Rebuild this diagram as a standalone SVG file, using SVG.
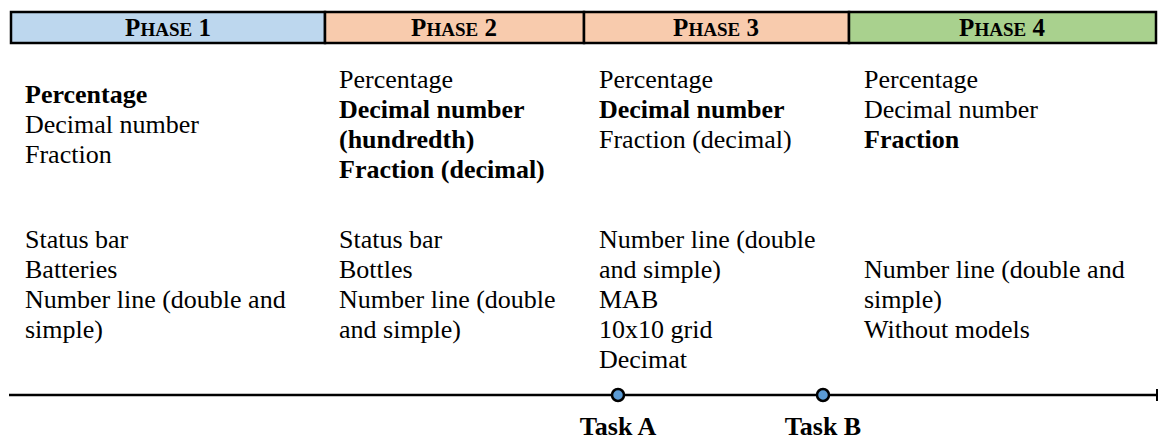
<svg xmlns="http://www.w3.org/2000/svg" width="1159" height="439" viewBox="0 0 1159 439">
<style>
text{font-family:"Liberation Serif","Times New Roman",serif;fill:#000}
.hd{font-size:25px;font-weight:bold;text-anchor:middle}
.sc{font-size:19px}
.t{font-size:26px}
.b{font-weight:bold}
.task{font-size:26px;font-weight:bold;text-anchor:middle}
.cell{stroke:#000;stroke-width:2.5}
</style>
<g id="header">
<rect class="cell" x="11" y="12" width="314" height="31" fill="#BDD7EE"/>
<rect class="cell" x="325" y="12" width="259" height="31" fill="#F8CBAD"/>
<rect class="cell" x="584" y="12" width="265" height="31" fill="#F8CBAD"/>
<rect class="cell" x="849" y="12" width="307" height="31" fill="#A9D18E"/>
<text class="hd" x="168" y="36">P<tspan class="sc">HASE</tspan> 1</text>
<text class="hd" x="454" y="36">P<tspan class="sc">HASE</tspan> 2</text>
<text class="hd" x="716" y="36">P<tspan class="sc">HASE</tspan> 3</text>
<text class="hd" x="1002" y="36">P<tspan class="sc">HASE</tspan> 4</text>
</g>
<g id="phase1-numbers">
<text class="t b" x="25" y="103">Percentage</text>
<text class="t" x="25" y="133">Decimal number</text>
<text class="t" x="25" y="163">Fraction</text>
</g>
<g id="phase2-numbers">
<text class="t" x="339" y="88">Percentage</text>
<text class="t b" x="339" y="118">Decimal number</text>
<text class="t b" x="339" y="148">(hundredth)</text>
<text class="t b" x="339" y="178">Fraction (decimal)</text>
</g>
<g id="phase3-numbers">
<text class="t" x="599" y="88">Percentage</text>
<text class="t b" x="599" y="118">Decimal number</text>
<text class="t" x="599" y="148">Fraction (decimal)</text>
</g>
<g id="phase4-numbers">
<text class="t" x="864" y="88">Percentage</text>
<text class="t" x="864" y="118">Decimal number</text>
<text class="t b" x="864" y="148">Fraction</text>
</g>
<g id="phase1-models">
<text class="t" x="25" y="248">Status bar</text>
<text class="t" x="25" y="278">Batteries</text>
<text class="t" x="25" y="308">Number line (double and</text>
<text class="t" x="25" y="338">simple)</text>
</g>
<g id="phase2-models">
<text class="t" x="339" y="248">Status bar</text>
<text class="t" x="339" y="278">Bottles</text>
<text class="t" x="339" y="308">Number line (double</text>
<text class="t" x="339" y="338">and simple)</text>
</g>
<g id="phase3-models">
<text class="t" x="599" y="248">Number line (double</text>
<text class="t" x="599" y="278">and simple)</text>
<text class="t" x="599" y="308">MAB</text>
<text class="t" x="599" y="338">10x10 grid</text>
<text class="t" x="599" y="368">Decimat</text>
</g>
<g id="phase4-models">
<text class="t" x="864" y="278">Number line (double and</text>
<text class="t" x="864" y="308">simple)</text>
<text class="t" x="864" y="338">Without models</text>
</g>
<g id="connectors">
<line x1="9" y1="395" x2="1157" y2="395" stroke="#000" stroke-width="2.5"/>
<line x1="1157" y1="389" x2="1157" y2="401" stroke="#000" stroke-width="2"/>
</g>
<g id="taskA">
<circle cx="618" cy="395" r="6" fill="#5B9BD5" stroke="#000" stroke-width="2.5"/>
<text class="task" x="618" y="435">Task A</text>
</g>
<g id="taskB">
<circle cx="823" cy="395" r="6" fill="#5B9BD5" stroke="#000" stroke-width="2.5"/>
<text class="task" x="823" y="435">Task B</text>
</g>
</svg>
